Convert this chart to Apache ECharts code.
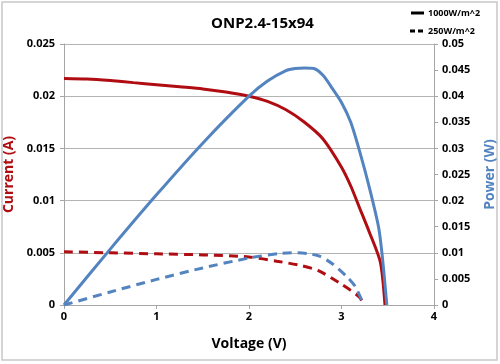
<!DOCTYPE html>
<html><head><meta charset="utf-8">
<script src="https://cdn.jsdelivr.net/npm/echarts@6/dist/echarts.min.js"></script>
<style>html,body{margin:0;padding:0;background:#fff}#c{width:500px;height:364px}</style>
</head><body><div id="c"></div>
<script>
const title = 'ONP2.4-15x94';
const legendNames = ['1000W/m^2', '250W/m^2'];
const xTicks = [0, 1, 2, 3, 4];
// 1000 W/m^2 current (A)
const cur1000V = [0, 0.25, 0.5, 0.75, 1.0, 1.25, 1.5, 1.75, 2.0, 2.2, 2.4, 2.6, 2.8, 3.0, 3.1, 3.2, 3.3, 3.42, 3.47];
const cur1000I = [0.0217, 0.02165, 0.0215, 0.0213, 0.0211, 0.0209, 0.0207, 0.0204, 0.0200, 0.0195, 0.0187, 0.0175, 0.0159, 0.0132, 0.0114, 0.0092, 0.0070, 0.0041, 0];
// 1000 W/m^2 power (W)
const pow1000V = [0, 0.5, 1.0, 1.5, 2.0, 2.2, 2.4, 2.5, 2.6, 2.7, 2.8, 2.9, 3.0, 3.1, 3.2, 3.3, 3.4, 3.44, 3.49];
const pow1000P = [0, 0.0107, 0.0211, 0.0310, 0.0400, 0.0429, 0.0449, 0.0453, 0.0454, 0.0453, 0.0440, 0.0415, 0.0388, 0.0350, 0.0292, 0.0226, 0.0150, 0.0095, 0];
// 250 W/m^2 current (A)
const cur250V = [0, 0.5, 1.0, 1.5, 2.0, 2.3, 2.55, 2.75, 2.98, 3.1, 3.2, 3.24];
const cur250I = [0.0051, 0.0050, 0.0049, 0.0048, 0.0046, 0.0042, 0.0038, 0.0033, 0.0021, 0.0014, 0.0007, 0];
// 250 W/m^2 power (W)
const pow250V = [0, 0.5, 1.0, 1.5, 2.0, 2.34, 2.5, 2.65, 2.77, 2.9, 3.06, 3.15, 3.24];
const pow250P = [0, 0.0025, 0.0049, 0.0071, 0.0090, 0.0099, 0.0100, 0.0098, 0.0093, 0.0079, 0.0054, 0.0035, 0];

const zip = (a, b) => a.map((v, i) => [v, b[i]]);
const RED = '#b00d12', BLUE = '#5384c0';
const F = 'Open Sans';
const tickLbl = {color: '#000', fontFamily: F, fontWeight: 'bold', fontSize: 11};
const legFont = 'bold 9px "Open Sans"';

const chart = echarts.init(document.getElementById('c'));
chart.setOption({
  animation: false,
  backgroundColor: '#fff',
  title: {text: title, left: 206, top: 11, textStyle: {fontFamily: F, fontWeight: 'bold', fontSize: 15, color: '#000'}},
  graphic: [
    {type: 'rect', shape: {x: 2, y: 2, width: 495, height: 358}, style: {fill: 'none', stroke: '#c8c8c8', lineWidth: 1.5}, silent: true},
    {type: 'line', shape: {x1: 411, y1: 13, x2: 424, y2: 13}, style: {stroke: '#000', lineWidth: 3}},
    {type: 'text', x: 428, y: 13, style: {text: legendNames[0], font: legFont, fill: '#000', verticalAlign: 'middle'}},
    {type: 'line', shape: {x1: 410, y1: 31, x2: 424, y2: 31}, style: {stroke: '#000', lineWidth: 3, lineDash: [5, 3]}},
    {type: 'text', x: 428, y: 31, style: {text: legendNames[1], font: legFont, fill: '#000', verticalAlign: 'middle'}}
  ],
  grid: {left: 64, right: 66, top: 44, bottom: 59, outerBoundsMode: 'none'},
  xAxis: {
    type: 'value', min: 0, max: 4, interval: 1,
    name: 'Voltage (V)', nameLocation: 'middle', nameGap: 32,
    nameTextStyle: {fontFamily: F, fontWeight: 'bold', fontSize: 14, color: '#000'},
    axisLine: {lineStyle: {color: '#a6a6a6'}},
    axisTick: {show: true, length: 4, lineStyle: {color: '#a6a6a6'}},
    splitLine: {show: false},
    axisLabel: Object.assign({margin: 6, formatter: v => String(v)}, tickLbl)
  },
  yAxis: [{
    type: 'value', min: 0, max: 0.025, interval: 0.005,
    name: 'Current (A)', nameLocation: 'middle', nameGap: 39, nameRotate: 90,
    nameTextStyle: {fontFamily: F, fontWeight: 'bold', fontSize: 14, color: RED},
    axisLine: {show: true, lineStyle: {color: '#a6a6a6'}},
    axisTick: {show: true, length: 4, lineStyle: {color: '#a6a6a6'}},
    splitLine: {show: true, lineStyle: {color: '#b4b4b4', width: 1}},
    axisLabel: Object.assign({margin: 9, formatter: v => String(+v.toFixed(3))}, tickLbl)
  }, {
    type: 'value', min: 0, max: 0.05, interval: 0.005, position: 'right',
    name: 'Power (W)', nameLocation: 'middle', nameGap: 49, nameRotate: 90,
    nameTextStyle: {fontFamily: F, fontWeight: 'bold', fontSize: 14, color: BLUE},
    axisLine: {show: true, lineStyle: {color: '#a6a6a6'}},
    axisTick: {show: true, length: 4, lineStyle: {color: '#a6a6a6'}},
    splitLine: {show: false},
    axisLabel: Object.assign({margin: 8, formatter: v => String(+v.toFixed(3))}, tickLbl)
  }],
  series: [
    {type: 'line', yAxisIndex: 0, data: zip(cur1000V, cur1000I), smooth: 0.25, symbol: 'none', lineStyle: {color: RED, width: 3}},
    {type: 'line', yAxisIndex: 1, data: zip(pow1000V, pow1000P), smooth: 0.25, symbol: 'none', lineStyle: {color: BLUE, width: 3}},
    {type: 'line', yAxisIndex: 0, data: zip(cur250V, cur250I), smooth: 0.25, symbol: 'none', lineStyle: {color: RED, width: 3, type: [9, 6]}},
    {type: 'line', yAxisIndex: 1, data: zip(pow250V, pow250P), smooth: 0.25, symbol: 'none', lineStyle: {color: BLUE, width: 3, type: [9, 6]}}
  ]
});
</script></body></html>
